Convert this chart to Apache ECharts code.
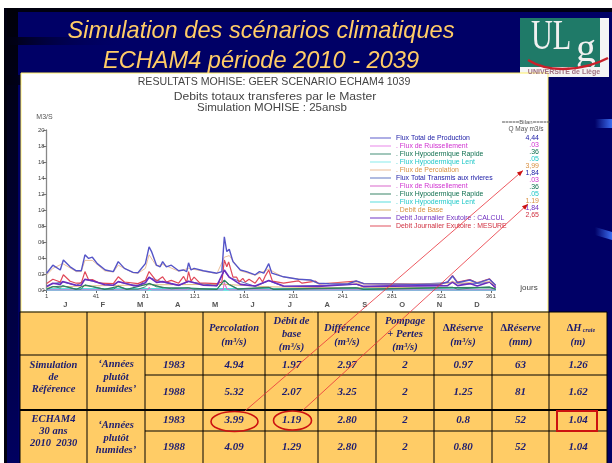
<!DOCTYPE html>
<html><head><meta charset="utf-8">
<style>html,body{margin:0;padding:0;background:#fff}#c{width:612px;height:463px;filter:blur(0.5px)}</style>
<script src="https://cdn.jsdelivr.net/npm/echarts@6/dist/echarts.min.js"></script>
</head><body><div id="c"></div>
<script>
// ---- chart data (day, m3/s)
const fluxTotalProduction=[[1,2.1],[6,3.1],[12,2.5],[14.5,3.75],[20,2.9],[25,2.4],[29,2.4],[32,4.4],[35,3.95],[38,4.1],[42,3.3],[48.5,2.5],[55,2.3],[59,3.55],[64,2.7],[71,2.2],[75,2.15],[81,3.3],[84,5.4],[86,4.8],[90,3.1],[93,2.9],[95,3.55],[98,2.9],[102,3.1],[108,2.4],[112,2.5],[114.5,2.3],[116,3.4],[118,2.5],[120.5,2.7],[128,2.4],[139,2.1],[143,2.3],[145,6.65],[147,4.8],[149,5.1],[152,3.55],[158,2.5],[163,2.3],[170,1.9],[173.5,2.3],[177,2.1],[181,3.3],[183.5,2.1],[193,1.65],[205,1.35],[215,1.25],[221,.85],[230,.8],[245,.75],[252,1.15],[258,.8],[300,.7],[320,.75],[326,1.0],[330,1.75],[334,.9],[344,1.25],[350,.85],[360,1.35],[365,.6]];
const fluxPercolation=[[1,1.9],[6,2.7],[14,3.3],[25,2.3],[29,2.3],[32,3.7],[38,3.7],[48,2.4],[55,2.25],[59,3.1],[71,2.15],[75,2.1],[81,2.7],[84,4.4],[90,3.0],[95,3.2],[108,2.35],[116,2.7],[128,2.35],[139,2.05],[145,4.1],[149,4.3],[158,2.4],[170,1.85],[181,2.6],[193,1.6],[215,1.2],[221,.8],[252,.9],[258,.75],[326,.8],[330,1.1],[334,.8],[344,.95],[360,1.05],[365,.55]];
const debitMesure=[[1,.8],[6,1.35],[12,1.0],[14.5,1.9],[20,1.1],[25,.85],[29,.85],[32,2.3],[35,1.25],[38,1.3],[44,.85],[55,.8],[59,1.65],[64,1.0],[75,.8],[81,1.2],[84,2.3],[90,1.1],[95,1.65],[98,1.0],[102,1.2],[108,.85],[112,1.7],[114.5,.95],[116,2.3],[118,1.1],[120.5,1.6],[125,.9],[139,.8],[143,1.0],[145,3.75],[147,2.9],[148.5,3.5],[152,1.6],[155,1.6],[157,1.0],[160,1.45],[162,1.0],[165,1.35],[170,.85],[173.5,1.6],[176,1.0],[178,1.7],[181,2.5],[184,1.1],[193,.85],[205,1.15],[208,.85],[219,1.1],[222,.75],[252,1.1],[258,.8],[320,.7],[326,1.0],[330,1.8],[334,1.0],[344,1.3],[350,.9],[360,1.4],[365,.5]];
const debitCalcul=[[1,.45],[6,.85],[12,.7],[14,1.05],[25,.6],[29,.6],[32,1.35],[38,1.15],[48,.65],[55,.6],[59,1.05],[71,.55],[75,.55],[81,.9],[84,1.6],[90,.95],[95,1.05],[102,.8],[108,.6],[116,1.1],[128,.6],[139,.55],[145,2.5],[149,1.6],[158,.7],[170,.5],[181,1.2],[193,.5],[221,.45],[252,.75],[258,.45],[326,.55],[330,1.0],[334,.55],[344,.8],[350,.5],[360,1.0],[365,.3]];
const fluxTotalTransmis=[[1,.4],[6,.8],[14,1.0],[25,.55],[32,1.3],[38,1.1],[55,.55],[59,1.0],[75,.5],[84,1.55],[95,1.0],[108,.55],[116,1.05],[139,.5],[145,2.4],[149,1.55],[170,.45],[181,1.15],[193,.45],[252,.7],[258,.4],[330,.95],[344,.75],[360,.95],[365,.25]];
const hypoRapide=[[1,.1],[6,.45],[12,.25],[14,.55],[25,.1],[29,.1],[32,.65],[38,.45],[48,.1],[55,.1],[59,.5],[66,.1],[75,.1],[81,.4],[84,.85],[90,.4],[95,.35],[102,.15],[116,.3],[120,.1],[139,.1],[145,1.25],[149,.7],[156,.15],[181,.35],[185,.1],[252,.3],[258,.1],[330,.35],[334,.1],[360,.4],[365,.1]];
const hypoRapide2=[[1,.08],[6,.4],[14,.5],[25,.08],[32,.6],[38,.4],[48,.08],[59,.45],[66,.08],[84,.8],[95,.3],[116,.25],[139,.08],[145,1.2],[149,.65],[156,.1],[181,.3],[185,.08],[252,.25],[258,.08],[330,.3],[360,.35],[365,.08]];
const ruissellement=[[1,0],[83,0],[84,.35],[86,0],[115,0],[116,.3],[118,0],[144,0],[145,1.0],[147,.2],[149,0],[180,0],[181,.25],[183,0],[365,0]];
const ruissellement2=[[1,0],[83,0],[84,.3],[86,0],[144,0],[145,.9],[147,.15],[149,0],[365,0]];
const hypoLent=[[1,.06],[145,.1],[365,.05]];
const hypoLent2=[[1,.05],[145,.08],[365,.04]];
const debitBase=[[1,.35],[32,.5],[84,.65],[145,.7],[181,.4],[221,.3],[330,.3],[365,.25]];
const xTicks=[1,41,81,121,161,201,241,281,321,361];
const months=['J','F','M','A','M','J','J','A','S','O','N','D'];
const seriesNames=['Flux Total de Production','. Flux de Ruissellement','. Flux Hypodermique Rapide','. Flux Hypodermique Lent','. Flux de Percolation','Flux Total Transmis aux rivieres','. Flux de Ruissellement ','. Flux Hypodermique Rapide ','. Flux Hypodermique Lent ','. Debit de Base','Debit Journalier Exutoire : CALCUL','Debit Journalier Exutoire : MESURE'];
const seriesValues=[fluxTotalProduction,ruissellement,hypoRapide,hypoLent,fluxPercolation,fluxTotalTransmis,ruissellement2,hypoRapide2,hypoLent2,debitBase,debitCalcul,debitMesure];
const seriesColors=['#5555c8','#e880e8','#3a8a70','#80eaea','#eab890','#5a70c0','#d860c8','#2f7f60','#50dcdc','#d8a860','#6a2cc0','#e04858'];
const textColors=['#2020a8','#d030d0','#107050','#20c8c8','#d89040','#2020a8','#d030d0','#107050','#20c8c8','#d89040','#7030c0','#d03040'];
const seriesWidths=[1.4,.8,1,2.5,.9,1,.8,1.1,2.5,.8,1.6,1.2];
const bilanValues=['4,44','.03','.36','.05','3,99','1,84','.03','.36','.05','1.19','1,84','2,65'];
// ---- table
const headers=[['Percolation','(m³/s)'],['Débit de','base','(m³/s)'],['Différence','(m³/s)'],['Pompage','+ Pertes','(m³/s)'],['∆Réserve','(m³/s)'],['∆Réserve','(mm)'],['∆H','(m)']];
const rowYears=['1983','1988','1983','1988'];
const rowValues=[['4.94','1.97','2.97','2','0.97','63','1.26'],['5.32','2.07','3.25','2','1.25','81','1.62'],['3.99','1.19','2.80','2','0.8','52','1.04'],['4.09','1.29','2.80','2','0.80','52','1.04']];
const groupLabels=[['Simulation','de','Référence'],['ECHAM4','30 ans','2010  2030']];
const groupKind="‘Années\nplutôt\nhumides’";

// ---- layout constants
const colX=[20,87,145,203,265,318,376,434,492,549,607];
const rowCenters=[365,392,420,447];
const ink='#1c1c70',F='"Liberation Serif"',S='"Liberation Sans"';
const g=[];
function txt(x,y,t,o,extra){g.push(Object.assign({type:'text',z:60,silent:true,x:x,y:y,style:Object.assign({text:t,fill:ink,font:'italic bold 10.5px '+F,textAlign:'center',textVerticalAlign:'middle'},o||{})},extra||{}));}
function rect(x,y,w,h,fill,z){g.push({type:'rect',z:z==null?-5:z,silent:true,shape:{x:x,y:y,width:w,height:h},style:{fill:fill}});}
function line(a,b,c,d,col,w,z){g.push({type:'line',z:z==null?55:z,silent:true,shape:{x1:a,y1:b,x2:c,y2:d},style:{stroke:col,lineWidth:w}});}
const grad=(x,y,x2,y2,a,b)=>({type:'linear',x:x,y:y,x2:x2,y2:y2,colorStops:[{offset:0,color:a},{offset:1,color:b}]});

// slide
rect(4,8,608,455,'#000066',-20);
rect(4,8,608,4,'#000010',-19);
rect(4,8,14,455,grad(0,0,0,1,'#000008','#000060'),-19);
rect(4,8,3,455,'#000010',-18);
rect(7,37,120,8,grad(0,0,1,0,'#000010','#00006600'),-19);
rect(7,75,120,10,grad(0,0,1,0,'#000010','#00006600'),-19);
rect(595,119,17,9,grad(0,0,1,0,'#000066','#3a6cf0'),-19);
g.push({type:'polygon',z:-19,silent:true,shape:{points:[[595,227],[612,232],[612,240],[595,235]]},style:{fill:grad(0,0,1,0,'#000066','#3a6cf0')}});
// title
txt(261,31,'Simulation des scénarios climatiques',{fill:'#ffcc66',font:'italic 23.6px '+S});
txt(261,61,'ECHAM4 période 2010 - 2039',{fill:'#ffcc66',font:'italic 23.6px '+S});
// logo
rect(520,18,89,59,'#f4f4f4',-10);
rect(520,18,80,49,'#1f7a68',-9);
txt(531,38,'UL',{fill:'#f0f0f0',font:'42px '+F,textAlign:'left'},{scaleX:.72});
txt(586,50,'g',{fill:'#f0f0f0',font:'40px '+F});
g.push({type:'bezierCurve',z:61,silent:true,shape:{x1:528,y1:60,cpx1:550,cpy1:74,cpx2:585,cpy2:70,x2:608,y2:58},style:{stroke:'#c8202a',lineWidth:2.5,fill:'none'}});
txt(564,72.5,'UNIVERSITÉ de Liège',{fill:'#a07080',font:'bold 7px '+S});
// white panel
rect(21,73,527,239,'#ffffff',-8);
g.push({type:'rect',z:-7,silent:true,shape:{x:21,y:73,width:527,height:239},style:{fill:'none',stroke:'#ffee66',lineWidth:1}});
// chart titles
const ct='#444';
txt(274,82,'RESULTATS MOHISE: GEER SCENARIO ECHAM4 1039',{fill:ct,font:'10.6px '+S});
txt(275,97,'Debits totaux transferes par le Master',{fill:ct,font:'10.4px '+S},{scaleX:1.17});
txt(272,108,'Simulation MOHISE : 25ansb',{fill:ct,font:'10.4px '+S},{scaleX:1.11});
txt(526,122,'=====Bilan=====',{fill:'#555',font:'6px '+S});
txt(526,129,'Q May m3/s',{fill:'#555',font:'6.5px '+S});
txt(529,288,'jours',{fill:'#444',font:'8px '+S});
// bilan values
bilanValues.forEach((v,i)=>txt(539,138+i*7,v,{fill:textColors[i],font:'7px '+S,textAlign:'right'}));
// table
rect(20,312,587,151,'#ffcc66',40);
colX.forEach((x,i)=>line(x,312,x,463,'#000',1));
line(20,312,607,312,'#000',1);
line(20,355,607,355,'#000',1);
line(145,375,607,375,'#000',1);
line(20,410,607,410,'#000',2);
line(145,431,607,431,'#000',1);
headers.forEach((h,i)=>{
  const cx=(colX[i+3]+colX[i+4])/2, n=h.length, top=n===3?321:328;
  h.forEach((t,j)=>{
    if(t==='∆H'){
      txt(cx-4,top,t);
      txt(cx+11,top+2,'craie',{font:'italic bold 6px '+F});
    } else txt(cx,top+j*(n===3?13:14),t);
  });
});
groupLabels.forEach((l,i)=>l.forEach((t,j)=>txt(53.5,(i?419:365)+j*12.3,t)));
[377,438].forEach(y=>txt(116,y,groupKind,{lineHeight:12.3}));
rowYears.forEach((t,i)=>txt(174,rowCenters[i],t,{font:'italic bold 11px '+F}));
rowValues.forEach((r,i)=>r.forEach((t,j)=>txt((colX[j+3]+colX[j+4])/2,rowCenters[i],t,{font:'italic bold 11px '+F})));
// annotations
const red='#cc1111';
g.push({type:'ellipse',z:70,silent:true,shape:{cx:234.5,cy:421.5,rx:23.5,ry:10},style:{fill:'none',stroke:red,lineWidth:1.6}});
g.push({type:'ellipse',z:70,silent:true,shape:{cx:292.5,cy:420.5,rx:19,ry:9.5},style:{fill:'none',stroke:red,lineWidth:1.6}});
g.push({type:'rect',z:70,silent:true,shape:{x:557,y:411,width:40,height:20},style:{fill:'none',stroke:red,lineWidth:2}});
function arrow(x1,y1,x2,y2){
  line(x1,y1,x2,y2,'#e83038',.8,71);
  const a=Math.atan2(y2-y1,x2-x1),L=6,W=2.4,bx=x2-L*Math.cos(a),by=y2-L*Math.sin(a);
  g.push({type:'polygon',z:71,silent:true,shape:{points:[[x2,y2],[bx-W*Math.sin(a),by+W*Math.cos(a)],[bx+W*Math.sin(a),by-W*Math.cos(a)]]},style:{fill:'#cc1111'}});
}
arrow(245,411,523,170.5);
arrow(301.5,411.5,528,204);

const chart=echarts.init(document.getElementById('c'),null,{renderer:'canvas'});
chart.setOption({
  animation:false,
  backgroundColor:'#ffffff',
  textStyle:{fontFamily:'Liberation Sans'},
  grid:{left:46.7,top:130,width:449,height:160,containLabel:false},
  xAxis:[
    {type:'value',min:1,max:365,splitLine:{show:false},
     axisLine:{show:false},
     axisTick:{show:true,customValues:xTicks,length:3,lineStyle:{color:'#666'}},
     axisLabel:{customValues:xTicks,fontSize:6,color:'#444',margin:3,showMinLabel:true,showMaxLabel:true}},
    {type:'category',data:months,position:'bottom',offset:9,axisLine:{show:false},axisTick:{show:false},
     axisLabel:{fontSize:7.5,fontWeight:'bold',color:'#555',margin:2,interval:0}}
  ],
  yAxis:{type:'value',min:0,max:20,interval:2,splitLine:{show:false},
     name:'M3/S',nameLocation:'end',nameGap:9,nameTextStyle:{fontSize:7,color:'#555',align:'right',padding:[0,-6,0,0]},
     axisLine:{show:true,lineStyle:{color:'#888',width:1.3}},
     axisTick:{length:4,lineStyle:{color:'#777'}},
     axisLabel:{fontSize:6,color:'#444',margin:2,formatter:v=>String(v).padStart(2,'0')}},
  legend:{orient:'vertical',left:370,top:134.5,itemWidth:21,itemHeight:6,itemGap:1,padding:0,selectedMode:false,
     itemStyle:{borderWidth:0},lineStyle:{width:0},
     textStyle:{fontSize:6.9,lineHeight:6},
     data:seriesNames.map((n,i)=>({name:n,icon:'path://M0 0H22V1H0Z',itemStyle:{color:seriesColors[i],borderWidth:0},textStyle:{color:textColors[i],fontSize:6.9,lineHeight:6}}))},
  graphic:{elements:g},
  series:seriesNames.map((n,i)=>({name:n,type:'line',xAxisIndex:0,data:seriesValues[i],showSymbol:false,symbol:'none',
     lineStyle:{color:seriesColors[i],width:seriesWidths[i]},itemStyle:{color:seriesColors[i]},z:[9,3,4,2,8,5,3,4,2,3,7,6][i]}))
});
</script></body></html>
